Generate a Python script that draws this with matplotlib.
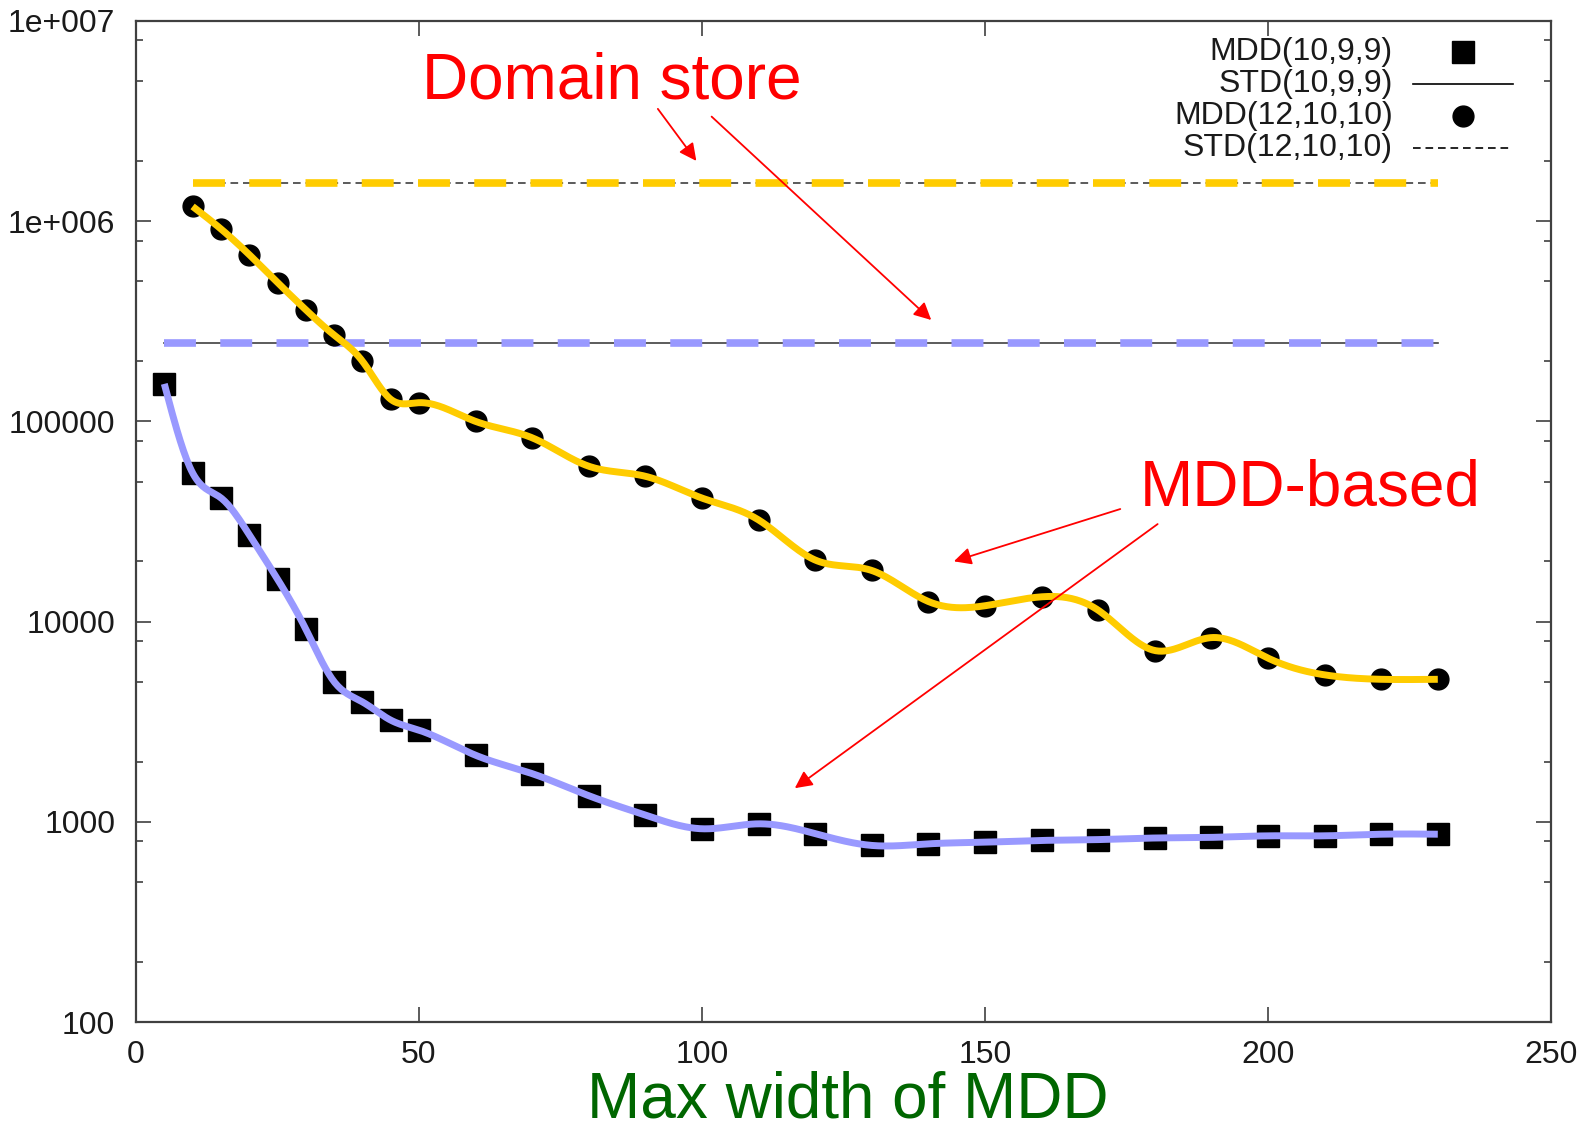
import numpy as np
import matplotlib
matplotlib.use("Agg")
import matplotlib.pyplot as plt
from matplotlib.lines import Line2D
from matplotlib.ticker import FixedLocator, FixedFormatter, NullFormatter

plt.rcParams['font.family'] = ['Liberation Sans', 'DejaVu Sans']
plt.rcParams['lines.scale_dashes'] = False

# ---------------- data ----------------
x_mdd_10 = [5, 10, 15, 20, 25, 30, 35, 40, 45, 50, 60, 70, 80, 90, 100,
            110, 120, 130, 140, 150, 160, 170, 180, 190, 200, 210, 220, 230]
mdd_10 = [154000, 55300, 41500, 27200, 16300, 9170, 5010, 3970, 3220, 2870,
          2150, 1740, 1350, 1080, 923, 977, 873, 762, 776, 791, 807, 815,
          830, 836, 851, 851, 867, 867]

x_mdd_12 = [10, 15, 20, 25, 30, 35, 40, 45, 50, 60, 70, 80, 90, 100,
            110, 120, 130, 140, 150, 160, 170, 180, 190, 200, 210, 220, 230]
mdd_12 = [1185000, 915000, 681000, 494000, 361000, 270000, 200000, 129000,
          124000, 100000, 82800, 59700, 53200, 41400, 32200, 20300, 18000,
          12600, 12000, 13300, 11400, 7170, 8320, 6570, 5420, 5150, 5150]

std_10_range = [5, 230]
std_10 = 245000
std_12_range = [10, 230]
std_12 = 1556000

legend_labels = ["MDD(10,9,9)", "STD(10,9,9)", "MDD(12,10,10)", "STD(12,10,10)"]
x_ticks = [0, 50, 100, 150, 200, 250]
y_ticks = [100, 1000, 10000, 100000, 1e6, 1e7]
y_tick_labels = ["100", "1000", "10000", "100000", "1e+006", "1e+007"]

YELLOW = "#FFCC00"
BLUE = "#9999FF"
RED = "#FF0000"
GREEN = "#006600"
FRAME = "#404040"
TXT = "#1a1a1a"


def natural_spline(x, y, xs):
    x = np.asarray(x, float)
    y = np.asarray(y, float)
    n = len(x)
    h = np.diff(x)
    A = np.zeros((n, n))
    r = np.zeros(n)
    A[0, 0] = 1
    A[-1, -1] = 1
    for i in range(1, n - 1):
        A[i, i - 1] = h[i - 1]
        A[i, i] = 2 * (h[i - 1] + h[i])
        A[i, i + 1] = h[i]
        r[i] = 3 * ((y[i + 1] - y[i]) / h[i] - (y[i] - y[i - 1]) / h[i - 1])
    c = np.linalg.solve(A, r)
    b = (y[1:] - y[:-1]) / h - h * (2 * c[:-1] + c[1:]) / 3
    d = (c[1:] - c[:-1]) / (3 * h)
    idx = np.clip(np.searchsorted(x, xs) - 1, 0, n - 2)
    dx = xs - x[idx]
    return y[idx] + b[idx] * dx + c[idx] * dx ** 2 + d[idx] * dx ** 3


W, H = 1595, 1132
fig = plt.figure(figsize=(W / 100, H / 100), dpi=100)
ax = fig.add_axes([136 / W, 1 - 1022 / H, (1551 - 136) / W, (1022 - 21) / H])
ax.set_yscale('log')
ax.set_xlim(0, 250)
ax.set_ylim(100, 1e7)

# thin black STD lines
ax.plot(std_10_range, [std_10, std_10], color=FRAME, lw=1.2, zorder=2)
ax.plot(std_12_range, [std_12, std_12], color=FRAME, lw=1.2, zorder=2,
        dashes=(5.5, 3.5))

# coloured dashed overlays
ax.plot(std_10_range, [std_10, std_10], color=BLUE, lw=5.5, zorder=3,
        dashes=(23, 17.5), dash_capstyle='butt')
ax.plot(std_12_range, [std_12, std_12], color=YELLOW, lw=5.5, zorder=3,
        dashes=(23, 17.5), dash_capstyle='butt')

# markers
ax.plot(x_mdd_10, mdd_10, ls='none', marker='s', ms=16.5, color='black',
        mec='black', zorder=4)
ax.plot(x_mdd_12, mdd_12, ls='none', marker='o', ms=15, color='black',
        mec='black', zorder=4)

# smooth curves
xs10 = np.linspace(x_mdd_10[0], x_mdd_10[-1], 800)
ys10 = 10 ** natural_spline(x_mdd_10, np.log10(mdd_10), xs10)
ax.plot(xs10, ys10, color=BLUE, lw=5, zorder=5, solid_capstyle='butt')
xs12 = np.linspace(x_mdd_12[0], x_mdd_12[-1], 800)
ys12 = 10 ** natural_spline(x_mdd_12, np.log10(mdd_12), xs12)
ax.plot(xs12, ys12, color=YELLOW, lw=5, zorder=5, solid_capstyle='butt')

# axes styling
for s in ax.spines.values():
    s.set_color(FRAME)
    s.set_linewidth(1.6)
ax.xaxis.set_major_locator(FixedLocator(x_ticks))
ax.yaxis.set_major_locator(FixedLocator(y_ticks))
ax.yaxis.set_major_formatter(FixedFormatter(y_tick_labels))
minor = [m * 10.0 ** k for k in range(2, 7) for m in (2, 5, 8)]
ax.yaxis.set_minor_locator(FixedLocator(minor))
ax.yaxis.set_minor_formatter(NullFormatter())
ax.xaxis.set_minor_locator(FixedLocator([]))
ax.tick_params(axis='both', which='major', direction='in', length=11,
               width=1.2, color=FRAME, labelsize=23, labelcolor=TXT,
               top=True, right=True)
ax.tick_params(axis='y', which='major', pad=15)
ax.tick_params(axis='x', which='major', pad=13)
ax.tick_params(axis='y', which='minor', direction='in', length=5.3,
               width=1.2, color=FRAME, right=True, left=True)

# legend (gnuplot style: right-aligned text, sample on the right)
def px2ax(px, py):
    return ((px - 136) / (1551 - 136), (1022 - py) / (1022 - 21))

rows = [52, 84, 116, 148]
for lab, py in zip(legend_labels, rows):
    tx, ty = px2ax(1393, py)
    ax.text(tx, ty, lab, transform=ax.transAxes, ha='right', va='center',
            fontsize=23, color=TXT)
x0, _ = px2ax(1413, 0)
x1, _ = px2ax(1513, 0)
xm, _ = px2ax(1463, 0)
ax.add_line(Line2D([xm], [px2ax(0, rows[0])[1]], transform=ax.transAxes,
                   ls='none', marker='s', ms=16.5, color='black'))
ax.add_line(Line2D([x0, x1], [px2ax(0, rows[1])[1]] * 2,
                   transform=ax.transAxes, color='black', lw=1.2))
ax.add_line(Line2D([xm], [px2ax(0, rows[2])[1]], transform=ax.transAxes,
                   ls='none', marker='o', ms=15, color='black'))
ax.add_line(Line2D([x0, x1], [px2ax(0, rows[3])[1]] * 2,
                   transform=ax.transAxes, color='black', lw=1.2,
                   dashes=(5.5, 3.5)))

# annotations
arrow = dict(arrowstyle='-|>', color=RED, lw=1.3, mutation_scale=26,
             shrinkA=0, shrinkB=0)
ax.text(84.1, 4.11e6, "Domain store", color=RED, fontsize=46,
        ha='center', va='baseline', zorder=6)
ax.annotate("", xy=(99.0, 2.0e6), xytext=(92.2, 3.64e6), arrowprops=arrow,
            zorder=6)
ax.annotate("", xy=(140.5, 3.21e5), xytext=(101.7, 3.33e6), arrowprops=arrow,
            zorder=6)
ax.text(207.4, 3.78e4, "MDD-based", color=RED, fontsize=46,
        ha='center', va='baseline', zorder=6)
ax.annotate("", xy=(144.5, 2.0e4), xytext=(173.9, 3.65e4), arrowprops=arrow,
            zorder=6)
ax.annotate("", xy=(116.4, 1472), xytext=(180.5, 3.07e4), arrowprops=arrow,
            zorder=6)

fig.text(848 / W, 0.001, "Max width of MDD", color=GREEN,
         fontsize=46, ha='center', va='bottom')

fig.savefig("out.png", dpi=100)
